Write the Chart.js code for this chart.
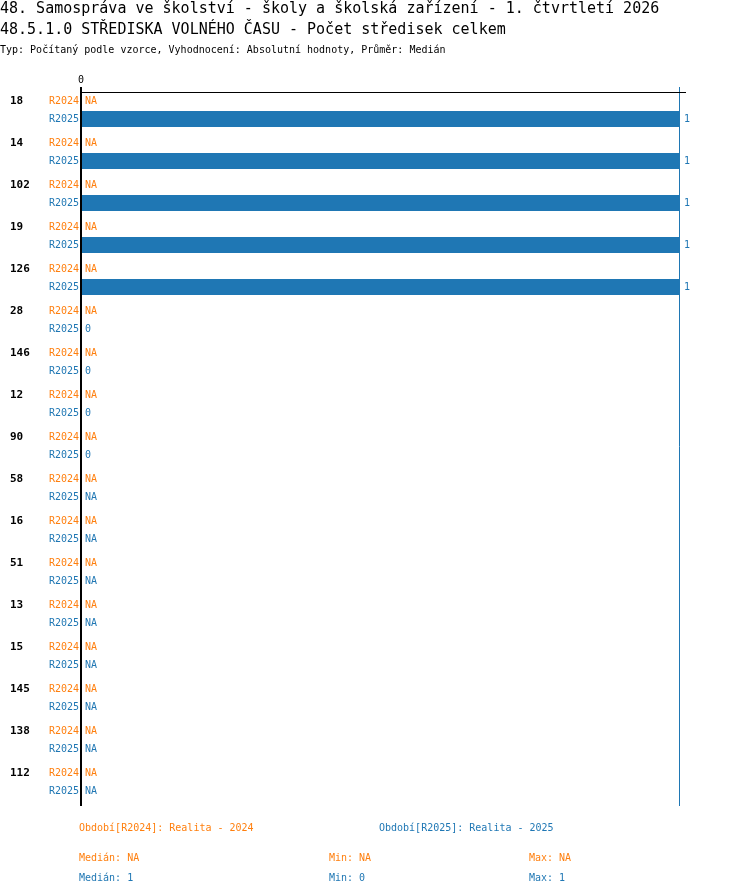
<!DOCTYPE html>
<html>
<head>
<meta charset="utf-8">
<script src="https://cdn.jsdelivr.net/npm/chart.js@4.4.1/dist/chart.umd.min.js"></script>
<style>
body { margin: 0; background: #fff; }
</style>
</head>
<body>
<canvas id="myChart" width="750" height="896"></canvas>
<script>
// data
let groups = ['18', '14', '102', '19', '126', '28', '146', '12', '90', '58', '16', '51', '13', '15', '145', '138', '112'];
let r2024 = [null, null, null, null, null, null, null, null, null, null, null, null, null, null, null, null, null];
let r2025 = [1, 1, 1, 1, 1, 0, 0, 0, 0, null, null, null, null, null, null, null, null];
let periods = ['R2024', 'R2025'];
let periodNames = ['Realita - 2024', 'Realita - 2025'];
let xTicks = [0];

let titleLines = [
    '48. Samospráva ve školství - školy a školská zařízení - 1. čtvrtletí 2026',
    '48.5.1.0 STŘEDISKA VOLNÉHO ČASU - Počet středisek celkem'
];
let subTitle = 'Typ: Počítaný podle vzorce, Vyhodnocení: Absolutní hodnoty, Průměr: Medián';

let colors = ['#ff7f0e', '#1f77b4'];
const mono = "'DejaVu Sans Mono', monospace";

// median / min / max of the values that exist
function stats(arr) {
    let v = arr.filter(x => x !== null).sort((a, b) => a - b);
    if (v.length == 0) return { med: 'NA', min: 'NA', max: 'NA' };
    let m = Math.floor(v.length / 2);
    let med = v.length % 2 ? v[m] : (v[m - 1] + v[m]) / 2;
    return { med: med, min: v[0], max: v[v.length - 1] };
}

let textPlugin = {
    id: 'textPlugin',
    beforeDatasetsDraw(chart) {
        let ctx = chart.ctx;
        let area = chart.chartArea;
        let x = chart.scales.x;
        // line at the max of R2025
        let s = stats(r2025);
        if (s.max !== 'NA') {
            let px = Math.round(x.getPixelForValue(s.max)) - 0.5;
            ctx.save();
            ctx.strokeStyle = colors[1];
            ctx.lineWidth = 1;
            ctx.beginPath();
            ctx.moveTo(px, area.top - 2);
            ctx.lineTo(px, area.bottom + 3);
            ctx.stroke();
            ctx.restore();
        }
        // top axis line
        ctx.save();
        ctx.strokeStyle = '#000';
        ctx.lineWidth = 1;
        ctx.beginPath();
        ctx.moveTo(area.left - 1, area.top + 3.5);
        ctx.lineTo(area.right + 6, area.top + 3.5);
        ctx.stroke();
        ctx.restore();
    },
    afterDatasetsDraw(chart) {
        let ctx = chart.ctx;
        let area = chart.chartArea;
        let x = chart.scales.x;
        let x0 = x.getPixelForValue(0);

        ctx.save();
        // header
        ctx.textBaseline = 'middle';
        ctx.textAlign = 'left';
        ctx.fillStyle = '#000';
        ctx.font = '15px ' + mono;
        ctx.fillText(titleLines[0], 0, 9);
        ctx.fillText(titleLines[1], 0, 30);
        ctx.font = '10px ' + mono;
        ctx.fillText(subTitle, 0, 50);

        // row labels and values
        chart.data.datasets.forEach((ds, i) => {
            let meta = chart.getDatasetMeta(i);
            meta.data.forEach((el, j) => {
                let y = el.y;
                ctx.fillStyle = colors[i];
                ctx.font = '10px ' + mono;
                ctx.textAlign = 'right';
                ctx.fillText(periods[i], area.left - 2, y);
                ctx.textAlign = 'left';
                let v = ds.data[j];
                if (v === null) {
                    ctx.fillText('NA', x0 + 4, y);
                } else {
                    ctx.fillText(String(v), x.getPixelForValue(v) + 4, y);
                }
                if (i == 0) {
                    ctx.fillStyle = '#000';
                    ctx.font = 'bold 11px ' + mono;
                    ctx.fillText(groups[j], 10, y);
                }
            });
        });

        // y axis
        ctx.strokeStyle = '#000';
        ctx.lineWidth = 2;
        ctx.beginPath();
        ctx.moveTo(x0, area.top - 2);
        ctx.lineTo(x0, area.bottom + 3);
        ctx.stroke();

        // bottom legend and stats
        ctx.font = '10px ' + mono;
        ctx.textAlign = 'left';
        let all = [r2024, r2025];
        for (let i = 0; i < 2; i++) {
            ctx.fillStyle = colors[i];
            ctx.fillText('Období[' + periods[i] + ']: ' + periodNames[i], area.left - 2 + i * 300, area.bottom + 25);
            let st = stats(all[i]);
            let y = area.bottom + 55 + i * 20;
            ctx.fillText('Medián: ' + st.med, area.left - 2, y);
            ctx.fillText('Min: ' + st.min, area.left + 248, y);
            ctx.fillText('Max: ' + st.max, area.left + 448, y);
        }
        ctx.restore();
    }
};

let ctx = document.getElementById('myChart').getContext('2d');
let chart = new Chart(ctx, {
    type: 'bar',
    data: {
        labels: groups,
        datasets: [{
            label: periods[0],
            data: r2024,
            backgroundColor: colors[0]
        }, {
            label: periods[1],
            data: r2025,
            backgroundColor: colors[1]
        }]
    },
    options: {
        indexAxis: 'y',
        responsive: false,
        animation: false,
        categoryPercentage: 36 / 42,
        barPercentage: 16 / 18,
        layout: {
            padding: { top: 75, left: 81, right: 70, bottom: 93 }
        },
        plugins: {
            legend: { display: false },
            tooltip: { enabled: false }
        },
        scales: {
            x: {
                type: 'linear',
                position: 'top',
                min: 0,
                max: 1,
                grid: { display: false, drawTicks: false },
                border: { display: false },
                ticks: {
                    color: '#000',
                    font: { family: mono, size: 10 },
                    padding: 3
                },
                afterBuildTicks: scale => {
                    scale.ticks = xTicks.map(v => ({ value: v }));
                },
                afterFit: scale => {
                    scale.height = 14;
                }
            },
            y: {
                display: false
            }
        }
    },
    plugins: [textPlugin]
});
</script>
</body>
</html>
